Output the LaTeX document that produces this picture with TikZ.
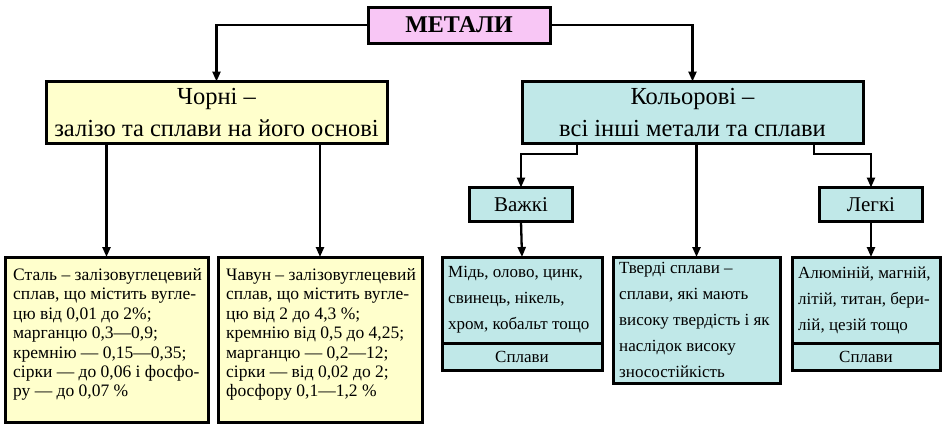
\documentclass[tikz,border=0pt]{standalone}
\usepackage{fontspec}
\setmainfont{Liberation Serif}
\usetikzlibrary{arrows.meta}
\definecolor{pinkfill}{RGB}{248,198,245}
\definecolor{yelfill}{RGB}{255,255,204}
\definecolor{cyanfill}{RGB}{192,232,232}
\tikzset{
  box/.style={draw=black, line width=3pt, inner sep=0pt, outer sep=0pt},
  conn/.style={line width=2.3pt, draw=black},
  arr/.style={conn, -{Triangle[length=10pt,width=8pt]}},
  toptext/.style={font=\fontsize{24.5}{32}\selectfont, align=center},
  smalltext/.style={font=\fontsize{17.5}{19.4}\selectfont, align=left, anchor=west, inner sep=0pt},
  smalltextb/.style={font=\fontsize{17}{26}\selectfont, align=left, anchor=west, inner sep=0pt},
  striptext/.style={font=\fontsize{17}{20}\selectfont},
}
\begin{document}
\begin{tikzpicture}[x=1pt,y=-1pt]
\useasboundingbox[fill=white] (0,0) rectangle (942,426);
% top
\node[box, fill=pinkfill, minimum width=182pt, minimum height=36pt,
      font=\bfseries\fontsize{24}{28}\selectfont] (met) at (459,25) {МЕТАЛИ};
\node[box, fill=yelfill, minimum width=341pt, minimum height=62pt, toptext] (chorni) at (216.5,112.5)
  {Чорні –\\залізо та сплави на його основі};
\node[box, fill=cyanfill, minimum width=341pt, minimum height=62pt, toptext] (kol) at (692.5,112.5)
  {Кольорові –\\всі інші метали та сплави};
\node[box, fill=cyanfill, minimum width=103pt, minimum height=34pt,
      font=\fontsize{21}{24}\selectfont] (vaz) at (521,204.5) {Важкі};
\node[box, fill=cyanfill, minimum width=103pt, minimum height=34pt,
      font=\fontsize{21}{24}\selectfont] (leg) at (871,204.5) {Легкі};
% bottom left
\node[box, fill=yelfill, anchor=north west, minimum width=203pt, minimum height=165pt] (stal) at (5,257) {};
\node[smalltext] (stalt) at ([xshift=8pt,yshift=5pt]stal.west)
  {Сталь – залізовуглецевий\\сплав, що містить вугле-\\цю від 0,01 до 2\%;\\марганцю 0,3—0,9;\\кремнію — 0,15—0,35;\\сірки — до 0,06 і фосфо-\\ру — до 0,07 \%};
\node[box, fill=yelfill, anchor=north west, minimum width=204pt, minimum height=165pt] (chav) at (218,257) {};
\node[smalltext] (chavt) at ([xshift=8pt,yshift=5pt]chav.west)
  {Чавун – залізовуглецевий\\сплав, що містить вугле-\\цю від 2 до 4,3 \%;\\кремнію від 0,5 до 4,25;\\марганцю — 0,2—12;\\сірки — від 0,02 до 2;\\фосфору 0,1—1,2 \%};
% bottom right
\node[box, fill=cyanfill, anchor=north west, minimum width=160pt, minimum height=86pt] (mid) at (442,257) {};
\node[smalltextb] (midt) at ([xshift=6pt]mid.west)
  {Мідь, олово, цинк,\\свинець, нікель,\\хром, кобальт тощо};
\node[box, fill=cyanfill, anchor=north, minimum width=160pt, minimum height=27pt,
      striptext] (midsp) at (mid.south) {Сплави};
\node[box, fill=cyanfill, anchor=north west, minimum width=167pt, minimum height=126pt] (tv) at (613,257) {};
\node[smalltextb] (tvt) at ([xshift=6pt]tv.west)
  {Тверді сплави –\\сплави, які мають\\високу твердість і як\\наслідок високу\\зносостійкість};
\node[box, fill=cyanfill, anchor=north west, minimum width=148pt, minimum height=86pt] (al) at (792,257) {};
\node[smalltextb] (alt) at ([xshift=6pt]al.west)
  {Алюміній, магній,\\літій, титан, бери-\\лій, цезій тощо};
\node[box, fill=cyanfill, anchor=north, minimum width=148pt, minimum height=27pt,
      striptext] (alsp) at (al.south) {Сплави};
% connectors
\draw[arr] (met.west) -| (chorni.north);
\draw[arr] (met.east) -| (kol.north);
\draw[arr] (stal.north |- chorni.south) -- (stal.north);
\draw[arr] (chav.north |- chorni.south) -- (chav.north);
\coordinate (k1) at (577,143);
\coordinate (k3) at (814,143);
\draw[arr] (k1) -- (577,154) -| (vaz.north);
\draw[arr] (k3) -- (814,154) -| (leg.north);
\draw[arr] (tv.north |- kol.south) -- (tv.north);
\draw[arr] (vaz.south) -- (mid.north);
\draw[arr] (leg.south) -- (leg.south |- al.north);
\end{tikzpicture}
\end{document}
